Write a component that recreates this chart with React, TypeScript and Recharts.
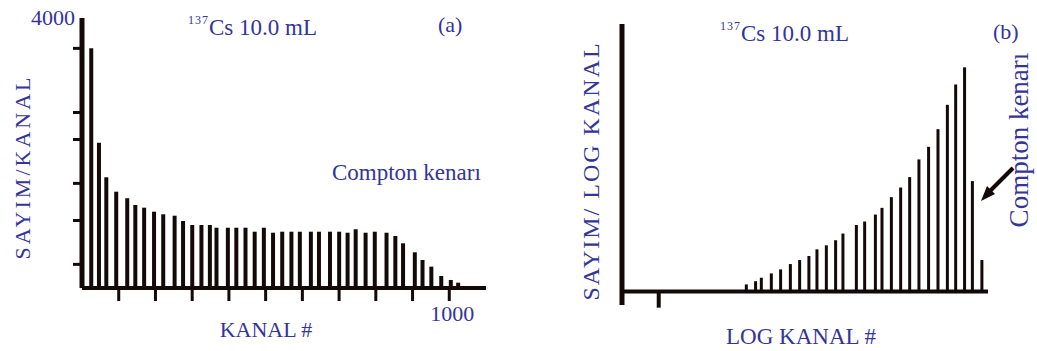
import React from "react"
import { Bar, BarChart, ReferenceLine, XAxis, YAxis } from "recharts"

// (a) kanal numarası ve kanal başına sayım
const kanal = [
  26, 47, 67, 94, 124, 146, 170, 197, 222, 253, 276, 301, 326, 349, 367, 398, 421, 446, 471, 496, 521,
  546, 571, 594, 624, 646, 676, 701, 724, 746, 773, 798, 830, 854, 875, 907, 928, 952, 979, 1005, 1025,
]
const sayim = [
  3551, 2153, 1640, 1427, 1329, 1230, 1190, 1130, 1092, 1071, 993, 933, 933, 933, 893, 893, 893, 893, 834,
  893, 819, 834, 834, 834, 834, 834, 834, 834, 819, 870, 819, 834, 819, 770, 662, 529, 415, 316, 178, 119, 79,
]
const kanalTicks = [100, 200, 300, 400, 500, 600, 700, 800, 900, 1000]
const sayimTicks = [350, 700, 1000, 1300, 1550, 1900, 2200, 2600, 3250, 3550, 4000]

// (b) log kanal ve sayım / log kanal (keyfi birim)
const logKanal = [
  1.022, 1.098, 1.145, 1.227, 1.303, 1.383, 1.459, 1.535, 1.601, 1.678, 1.754, 1.814, 1.924, 1.992,
  2.08, 2.134, 2.211, 2.287, 2.361, 2.437, 2.516, 2.593, 2.67, 2.738, 2.811, 2.875, 2.953,
]
const sayimLog = [
  2.7, 3.9, 5.2, 6.8, 8.3, 10.3, 11.8, 13.3, 15.8, 17.3, 19.2, 21.7, 24.9, 26.2, 28.8, 31.3, 35.3, 38.9,
  42.8, 49.4, 54.1, 60.7, 69.8, 77.4, 83.8, 41.3, 11.8,
]
const logTick = 0.301

const dataA = kanal.map((k, i) => ({ kanal: k, sayim: sayim[i] }))
const dataB = logKanal.map((k, i) => ({ logKanal: k, sayim: sayimLog[i] }))

const INK = "#140909"
const BLUE = "#34349a"
const FONT = "Liberation Serif, Times New Roman, serif"
const serif = { fontFamily: FONT }

function LeftYTick(props: any) {
  const { x, y, payload } = props
  if (payload.value === 4000) {
    return (
      <text x={x + 4} y={y + 7} textAnchor="end" fill={BLUE} fontSize={22} style={serif}>
        4000
      </text>
    )
  }
  return <line x1={x + 2} x2={x + 11} y1={y} y2={y} stroke={INK} strokeWidth={3} />
}

function LeftXTick(props: any) {
  const { x, y, payload } = props
  if (payload.value !== 1000) return <g />
  return (
    <text x={x + 3} y={y + 18} textAnchor="middle" fill={BLUE} fontSize={22} style={serif}>
      1000
    </text>
  )
}

export default function App() {
  return (
    <div style={{ position: "absolute", left: 0, top: 0, width: 1037, height: 351, background: "#fff" }}>
      <div style={{ position: "absolute", left: 0, top: 0 }}>
        <BarChart width={520} height={351} data={dataA} margin={{ top: 18, right: 34, bottom: 23, left: 0 }}>
          <XAxis
            dataKey="kanal"
            type="number"
            domain={[0, 1100]}
            ticks={kanalTicks}
            height={40}
            tickSize={13}
            axisLine={{ stroke: INK, strokeWidth: 4 }}
            tickLine={{ stroke: INK, strokeWidth: 3 }}
            tick={<LeftXTick />}
          />
          <YAxis
            type="number"
            domain={[0, 4000]}
            ticks={sayimTicks}
            width={82}
            tickSize={9}
            axisLine={{ stroke: INK, strokeWidth: 5 }}
            tickLine={false}
            tick={<LeftYTick />}
          />
          <Bar dataKey="sayim" fill={INK} barSize={4} isAnimationActive={false} />
        </BarChart>
      </div>
      <div style={{ position: "absolute", left: 520, top: 0 }}>
        <BarChart width={517} height={351} data={dataB} margin={{ top: 24, right: 49, bottom: 46, left: 0 }}>
          <XAxis dataKey="logKanal" type="number" domain={[0, 3]} hide />
          <YAxis
            type="number"
            domain={[-5, 100]}
            width={102}
            axisLine={{ stroke: INK, strokeWidth: 5 }}
            tickLine={false}
            tick={false}
          />
          <ReferenceLine y={0} stroke={INK} strokeWidth={4} />
          <ReferenceLine
            segment={[
              { x: logTick, y: 0 },
              { x: logTick, y: -6 },
            ]}
            stroke={INK}
            strokeWidth={4}
            ifOverflow="visible"
          />
          <Bar dataKey="sayim" fill={INK} barSize={3} isAnimationActive={false} />
        </BarChart>
      </div>
      <svg
        width={1037}
        height={351}
        style={{ position: "absolute", left: 0, top: 0, pointerEvents: "none", fontFamily: FONT }}
      >
        <g fill={BLUE} style={serif}>
          <text x={188} y={35} fontSize={23} style={serif}>
            <tspan fontSize={12} dy={-11} letterSpacing={1}>
              137
            </tspan>
            <tspan dy={11}>Cs 10.0 mL</tspan>
          </text>
          <text x={438} y={32} fontSize={22} style={serif}>
            (a)
          </text>
          <text x={332} y={180} fontSize={23} style={serif}>
            Compton kenarı
          </text>
          <text x={266} y={337} fontSize={22} textAnchor="middle" style={serif}>
            KANAL #
          </text>
          <text
            x={22}
            y={167}
            fontSize={22}
            letterSpacing={3}
            textAnchor="middle"
            dominantBaseline="central"
            transform="rotate(-90, 22, 167)"
            style={serif}
          >
            SAYIM/KANAL
          </text>

          <text x={720} y={41} fontSize={23} style={serif}>
            <tspan fontSize={12} dy={-11} letterSpacing={1}>
              137
            </tspan>
            <tspan dy={11}>Cs 10.0 mL</tspan>
          </text>
          <text x={993} y={39} fontSize={22} style={serif}>
            (b)
          </text>
          <text x={801} y={344} fontSize={23} textAnchor="middle" style={serif}>
            LOG KANAL #
          </text>
          <text
            x={591}
            y={171}
            fontSize={24}
            letterSpacing={2}
            textAnchor="middle"
            dominantBaseline="central"
            transform="rotate(-90, 591, 171)"
            style={serif}
          >
            SAYIM/ LOG KANAL
          </text>
          <text
            x={1019}
            y={140}
            fontSize={27}
            textAnchor="middle"
            dominantBaseline="central"
            transform="rotate(-90, 1019, 140)"
            style={serif}
          >
            Compton kenarı
          </text>
        </g>
        <line x1={1013} y1={168} x2={990} y2={191} stroke={INK} strokeWidth={4} />
        <polygon points="981,201 995,194 987,186" fill={INK} />
      </svg>
    </div>
  )
}
